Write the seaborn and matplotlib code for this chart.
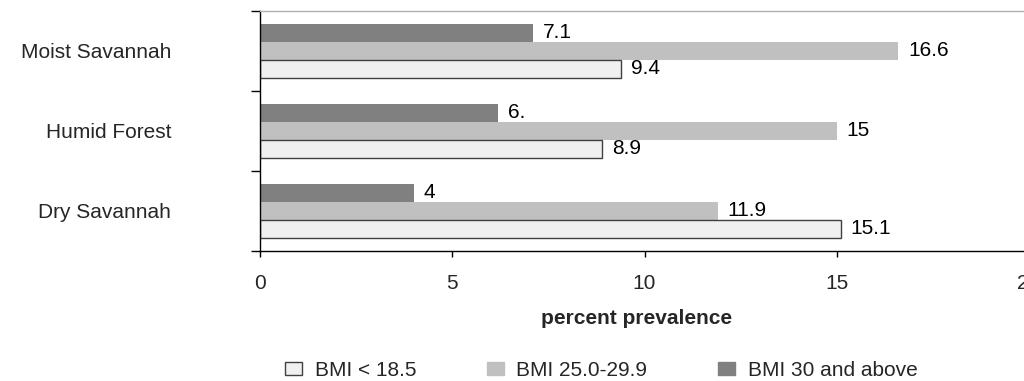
import seaborn as sns
import matplotlib.pyplot as plt
import matplotlib.patches as mpatches
import pandas as pd

# values
regions = ["Moist Savannah", "Humid Forest", "Dry Savannah"]
series = ["BMI < 18.5", "BMI 25.0-29.9", "BMI 30 and above"]
bmi_under = [9.4, 8.9, 15.1]
bmi_over = [16.6, 15.0, 11.9]
bmi_obese = [7.1, 6.2, 4.0]
labels_under = ["9.4", "8.9", "15.1"]
labels_over = ["16.6", "15", "11.9"]
labels_obese = ["7.1", "6.", "4"]
x_ticks = [0, 5, 10, 15, 20]

colors = {"BMI < 18.5": "#f0f0f0", "BMI 25.0-29.9": "#c0c0c0", "BMI 30 and above": "#808080"}

df = pd.DataFrame({
    "region": regions * 3,
    "series": [series[0]] * 3 + [series[1]] * 3 + [series[2]] * 3,
    "value": bmi_under + bmi_over + bmi_obese,
})

sns.set_theme(style="white")
plt.rcParams["font.family"] = ["Liberation Sans", "DejaVu Sans"]

fig = plt.figure(figsize=(10.24, 3.81), dpi=100)
ax = fig.add_axes([260 / 1024, 1 - 251 / 381, 769 / 1024, 240 / 381])

# dark series drawn first so it sits on top of each group
hue_order = [series[2], series[1], series[0]]
sns.barplot(data=df, y="region", x="value", hue="series", hue_order=hue_order,
            order=regions, palette=colors, width=0.675, orient="h",
            linewidth=0, legend=False, ax=ax)

label_map = {series[0]: labels_under, series[1]: labels_over, series[2]: labels_obese}
for cont, name in zip(ax.containers, hue_order):
    if name == series[0]:
        for p in cont:
            p.set_edgecolor("#404040")
            p.set_linewidth(1)
    ax.bar_label(cont, labels=label_map[name], padding=7, fontsize=15, color="black")

ax.set_xlim(0, 20)
ax.set_ylim(2.5, -0.5)
ax.set_xticks(x_ticks)
ax.set_xticklabels([str(t) for t in x_ticks])
ax.tick_params(axis="x", direction="out", length=4.5, width=1, color="black",
               labelsize=15, pad=12, bottom=True)

ax.set_yticks([0, 1, 2])
ax.set_yticklabels(regions)
ax.set_yticks([-0.5, 0.5, 1.5, 2.5], minor=True)
ax.tick_params(axis="y", which="major", length=0, labelsize=15, pad=64)
ax.tick_params(axis="y", which="minor", direction="out", length=6.5, width=1,
               color="black", left=True)

for s in ["left", "bottom"]:
    ax.spines[s].set_color("black")
    ax.spines[s].set_linewidth(1)
ax.spines["top"].set_color("#b0b0b0")
ax.spines["top"].set_linewidth(1)
ax.spines["right"].set_visible(False)

ax.set_ylabel("")
ax.set_xlabel("percent prevalence", fontsize=15, fontweight="bold")
ax.xaxis.set_label_coords((637 - 260) / 769, (251 - 318) / 240)
ax.xaxis.label.set_verticalalignment("center")

handles = [
    mpatches.Patch(facecolor=colors[series[0]], edgecolor="#404040", linewidth=1),
    mpatches.Patch(facecolor=colors[series[1]], edgecolor=colors[series[1]], linewidth=1),
    mpatches.Patch(facecolor=colors[series[2]], edgecolor=colors[series[2]], linewidth=1),
]
fig.legend(handles, series, loc="center left", bbox_to_anchor=(285 / 1024, 1 - 370 / 381),
           ncol=3, frameon=False, fontsize=15, handlelength=0.82, handleheight=0.58,
           handletextpad=0.6, columnspacing=3.4, borderpad=0, borderaxespad=0)

fig.savefig("out.png", dpi=100)
